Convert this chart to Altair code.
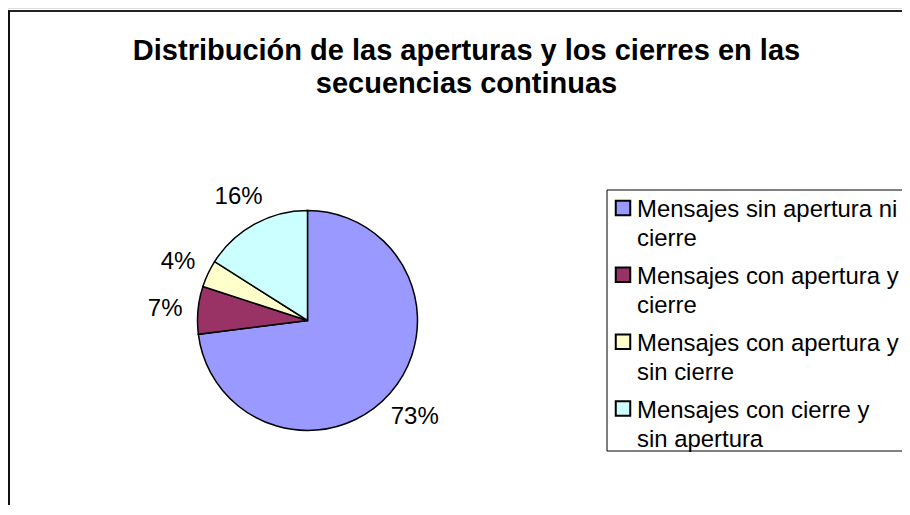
import altair as alt
import pandas as pd

# ---- data ----
categories = [
    "Mensajes sin apertura ni cierre",
    "Mensajes con apertura y cierre",
    "Mensajes con apertura y sin cierre",
    "Mensajes con cierre y sin apertura",
]
legend_labels = [
    "Mensajes sin apertura ni\ncierre",
    "Mensajes con apertura y\ncierre",
    "Mensajes con apertura y\nsin cierre",
    "Mensajes con cierre y\nsin apertura",
]
values = [73, 7, 4, 16]
colors = ["#9999FF", "#993366", "#FFFFCC", "#CCFFFF"]
title_lines = [
    "Distribución de las aperturas y los cierres en las",
    "secuencias continuas",
]

df = pd.DataFrame({
    "cat": categories,
    "legend": legend_labels,
    "value": values,
    "order": list(range(len(categories))),
})

FONT = "Liberation Sans"
W, H = 894, 497
CX, CY = 299.5, 312.5

color = alt.Color("cat:N", scale=alt.Scale(domain=categories, range=colors), legend=None)
theta = alt.Theta("value:Q", stack=True)
order = alt.Order("order:Q", sort="ascending")

base = alt.Chart(df)

pie = base.mark_arc(radius=110, stroke="#000000", strokeWidth=1.5).encode(
    theta=theta, color=color, order=order,
    x=alt.value(CX), y=alt.value(CY),
)

labels = base.transform_calculate(
    lab="datum.value + '%'"
).mark_text(radius=143, dy=2, font=FONT, fontSize=24, color="#000000").encode(
    theta=theta, order=order, text="lab:N",
    x=alt.value(CX), y=alt.value(CY),
)

# legend box (right side runs off the picture)
box_df = pd.DataFrame({"a": [0]})
LB_L, LB_T, LB_B = 599, 182, 443
box_top = alt.Chart(box_df).mark_rule(color="#000000", strokeWidth=1).encode(
    x=alt.value(LB_L), x2=alt.value(W + 20), y=alt.value(LB_T)
)
box_bottom = alt.Chart(box_df).mark_rule(color="#000000", strokeWidth=1).encode(
    x=alt.value(LB_L), x2=alt.value(W + 20), y=alt.value(LB_B)
)
box_left = alt.Chart(box_df).mark_rule(color="#000000", strokeWidth=1).encode(
    x=alt.value(LB_L), y=alt.value(LB_T), y2=alt.value(LB_B)
)

ypos = alt.Y("cat:N", scale=alt.Scale(type="point", domain=categories, range=[200, 400.5], padding=0), axis=None)

leg_sq = base.mark_square(size=210, filled=True, stroke="#000000", strokeWidth=2, opacity=1).encode(
    x=alt.value(615), y=ypos, color=color
)
leg_txt = base.mark_text(
    align="left", baseline="top", dy=-10, font=FONT, fontSize=23.9,
    lineBreak="\n", lineHeight=29, color="#000000"
).encode(x=alt.value(629), y=ypos, text="legend:N")

# outer frame (top and left edges visible)
frame_top = alt.Chart(box_df).mark_rule(color="#222222", strokeWidth=2).encode(
    x=alt.value(0), x2=alt.value(W + 20), y=alt.value(3)
)
frame_left = alt.Chart(box_df).mark_rule(color="#111111", strokeWidth=2).encode(
    x=alt.value(1), y=alt.value(3), y2=alt.value(H + 20)
)

chart = alt.layer(
    frame_top, frame_left, pie, labels, box_top, box_bottom, box_left, leg_sq, leg_txt
).properties(
    width=W, height=H,
    autosize=alt.AutoSizeParams(type="none"),
    padding=0,
    title=alt.TitleParams(
        text=title_lines, anchor="middle", font=FONT, fontSize=29,
        fontWeight="bold", color="#000000", lineHeight=33, offset=-91, dx=11.5,
    ),
).configure_view(stroke=None).configure(background="white")

chart.save("out.html", embed_options={"renderer": "svg", "actions": False})
